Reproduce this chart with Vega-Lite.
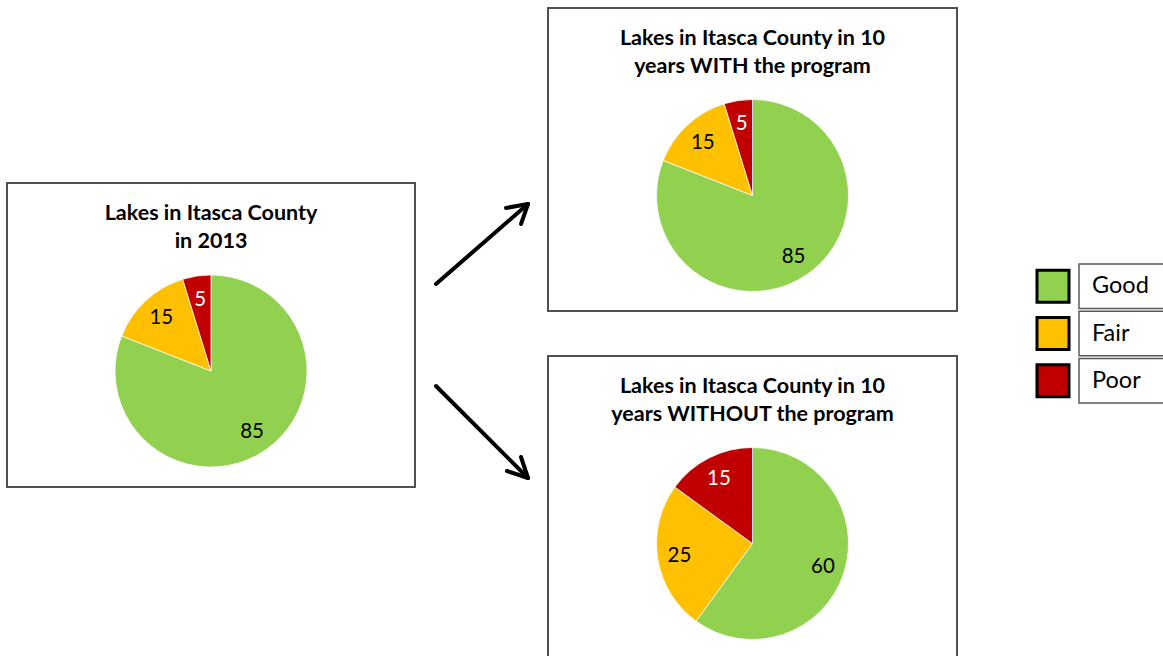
{
  "$schema": "https://vega.github.io/schema/vega-lite/v6.json",
  "background": "white",
  "padding": {"left": 6, "top": 7, "right": 0, "bottom": 0},
  "spacing": 0,
  "config": {
    "font": "Lato",
    "view": {"stroke": "#4d4d4d", "strokeWidth": 1.5},
    "title": {"fontSize": 21.5, "font": "Lato", "fontWeight": "bold", "lineHeight": 28, "color": "black", "anchor": "middle"}
  },
  "datasets": {
    "pies": [
      {"chart": "2013", "Category": "Good", "Value": 85, "idx": 1},
      {"chart": "2013", "Category": "Fair", "Value": 15, "idx": 2},
      {"chart": "2013", "Category": "Poor", "Value": 5, "idx": 3},
      {"chart": "with", "Category": "Good", "Value": 85, "idx": 1},
      {"chart": "with", "Category": "Fair", "Value": 15, "idx": 2},
      {"chart": "with", "Category": "Poor", "Value": 5, "idx": 3},
      {"chart": "without", "Category": "Good", "Value": 60, "idx": 1},
      {"chart": "without", "Category": "Fair", "Value": 25, "idx": 2},
      {"chart": "without", "Category": "Poor", "Value": 15, "idx": 3}
    ],
    "arrows": [
      {"arrow": "up", "part": "shaft", "x": 20, "y": 276, "x2": 112, "y2": 196},
      {"arrow": "up", "part": "wing1", "x": 90, "y": 200, "x2": 112, "y2": 196},
      {"arrow": "up", "part": "wing2", "x": 105, "y": 216, "x2": 112, "y2": 196},
      {"arrow": "down", "part": "shaft", "x": 20, "y": 378, "x2": 112, "y2": 470},
      {"arrow": "down", "part": "wing1", "x": 105, "y": 449, "x2": 112, "y2": 470},
      {"arrow": "down", "part": "wing2", "x": 91, "y": 463, "x2": 112, "y2": 470}
    ],
    "legend": [
      {"Category": "Good"},
      {"Category": "Fair"},
      {"Category": "Poor"}
    ]
  },
  "hconcat": [
    {
      "spacing": 0,
      "vconcat": [
        {
          "width": 408, "height": 174,
          "view": {"stroke": null, "fill": "white"},
          "data": {"values": []},
          "mark": "text"
        },
        {
          "width": 408, "height": 304,
          "title": {"text": ["Lakes in Itasca County", "in 2013"], "offset": -70},
          "data": {"name": "pies"},
          "transform": [{"filter": "datum.chart === '2013'"}],
          "layer": [
            {
              "mark": {"type": "rect", "x": 0, "x2": "width", "y": 0, "y2": "height", "fill": null, "stroke": "#4d4d4d", "strokeWidth": 1.5},
              "encoding": {}
            },
            {
              "mark": {"type": "arc", "outerRadius": 96, "yOffset": 36, "stroke": "white", "strokeWidth": 0.75},
              "encoding": {
                "theta": {"field": "Value", "type": "quantitative", "stack": true},
                "color": {"field": "Category", "type": "nominal", "scale": {"domain": ["Good", "Fair", "Poor"], "range": ["#92D050", "#FFC000", "#C00000"]}, "legend": null},
                "order": {"field": "idx", "type": "quantitative"}
              }
            },
            {
              "mark": {"type": "text", "radius": 73, "yOffset": 37, "fontSize": 20.5, "font": "Lato"},
              "encoding": {
                "theta": {"field": "Value", "type": "quantitative", "stack": true},
                "detail": {"field": "Category", "type": "nominal"},
                "order": {"field": "idx", "type": "quantitative"},
                "text": {"field": "Value", "type": "quantitative"},
                "color": {"condition": {"test": "datum.Category === 'Poor'", "value": "white"}, "value": "black"}
              }
            }
          ]
        }
      ]
    },
    {
      "width": 131, "height": 648,
      "view": {"stroke": null},
      "data": {"name": "arrows"},
      "mark": {"type": "rule", "strokeWidth": 4, "strokeCap": "round", "color": "black"},
      "encoding": {
        "x": {"field": "x", "type": "quantitative", "scale": {"domain": [0, 131]}, "axis": null},
        "y": {"field": "y", "type": "quantitative", "scale": {"domain": [0, 648], "reverse": true}, "axis": null},
        "x2": {"field": "x2"},
        "y2": {"field": "y2"}
      }
    },
    {
      "spacing": 43,
      "vconcat": [
        {
          "width": 409, "height": 303,
          "title": {"text": ["Lakes in Itasca County in 10", "years WITH the program"], "offset": -70},
          "data": {"name": "pies"},
          "transform": [{"filter": "datum.chart === 'with'"}],
          "layer": [
            {
              "mark": {"type": "rect", "x": 0, "x2": "width", "y": 0, "y2": "height", "fill": null, "stroke": "#4d4d4d", "strokeWidth": 1.5},
              "encoding": {}
            },
            {
              "mark": {"type": "arc", "outerRadius": 96, "yOffset": 36, "stroke": "white", "strokeWidth": 0.75},
              "encoding": {
                "theta": {"field": "Value", "type": "quantitative", "stack": true},
                "color": {"field": "Category", "type": "nominal", "scale": {"domain": ["Good", "Fair", "Poor"], "range": ["#92D050", "#FFC000", "#C00000"]}, "legend": null},
                "order": {"field": "idx", "type": "quantitative"}
              }
            },
            {
              "mark": {"type": "text", "radius": 73, "yOffset": 37, "fontSize": 20.5, "font": "Lato"},
              "encoding": {
                "theta": {"field": "Value", "type": "quantitative", "stack": true},
                "detail": {"field": "Category", "type": "nominal"},
                "order": {"field": "idx", "type": "quantitative"},
                "text": {"field": "Value", "type": "quantitative"},
                "color": {"condition": {"test": "datum.Category === 'Poor'", "value": "white"}, "value": "black"}
              }
            }
          ]
        },
        {
          "width": 409, "height": 303,
          "title": {"text": ["Lakes in Itasca County in 10", "years WITHOUT the program"], "offset": -70},
          "data": {"name": "pies"},
          "transform": [{"filter": "datum.chart === 'without'"}],
          "layer": [
            {
              "mark": {"type": "rect", "x": 0, "x2": "width", "y": 0, "y2": "height", "fill": null, "stroke": "#4d4d4d", "strokeWidth": 1.5},
              "encoding": {}
            },
            {
              "mark": {"type": "arc", "outerRadius": 96, "yOffset": 36, "stroke": "white", "strokeWidth": 0.75},
              "encoding": {
                "theta": {"field": "Value", "type": "quantitative", "stack": true},
                "color": {"field": "Category", "type": "nominal", "scale": {"domain": ["Good", "Fair", "Poor"], "range": ["#92D050", "#FFC000", "#C00000"]}, "legend": null},
                "order": {"field": "idx", "type": "quantitative"}
              }
            },
            {
              "mark": {"type": "text", "radius": 74, "yOffset": 37, "fontSize": 20.5, "font": "Lato"},
              "encoding": {
                "theta": {"field": "Value", "type": "quantitative", "stack": true},
                "detail": {"field": "Category", "type": "nominal"},
                "order": {"field": "idx", "type": "quantitative"},
                "text": {"field": "Value", "type": "quantitative"},
                "color": {"condition": {"test": "datum.Category === 'Poor'", "value": "white"}, "value": "black"}
              }
            }
          ]
        }
      ]
    },
    {
      "width": 206, "height": 648,
      "view": {"stroke": null},
      "data": {"name": "legend"},
      "encoding": {
        "y": {"field": "Category", "type": "nominal", "sort": ["Good", "Fair", "Poor"], "scale": {"range": [256, 395], "paddingInner": 0.06, "paddingOuter": 0}, "axis": null}
      },
      "layer": [
        {
          "mark": {"type": "rect", "x": 121, "x2": 240, "fill": "white", "stroke": "#595959", "strokeWidth": 1.5}
        },
        {
          "mark": {"type": "square", "x": 95, "size": 1024, "filled": true, "stroke": "black", "strokeWidth": 3, "opacity": 1},
          "encoding": {
            "color": {"field": "Category", "type": "nominal", "scale": {"domain": ["Good", "Fair", "Poor"], "range": ["#92D050", "#FFC000", "#C00000"]}, "legend": null}
          }
        },
        {
          "mark": {"type": "text", "x": 134, "align": "left", "baseline": "middle", "fontSize": 23.5, "font": "Lato", "color": "black"},
          "encoding": {"text": {"field": "Category", "type": "nominal"}}
        }
      ]
    }
  ]
}
